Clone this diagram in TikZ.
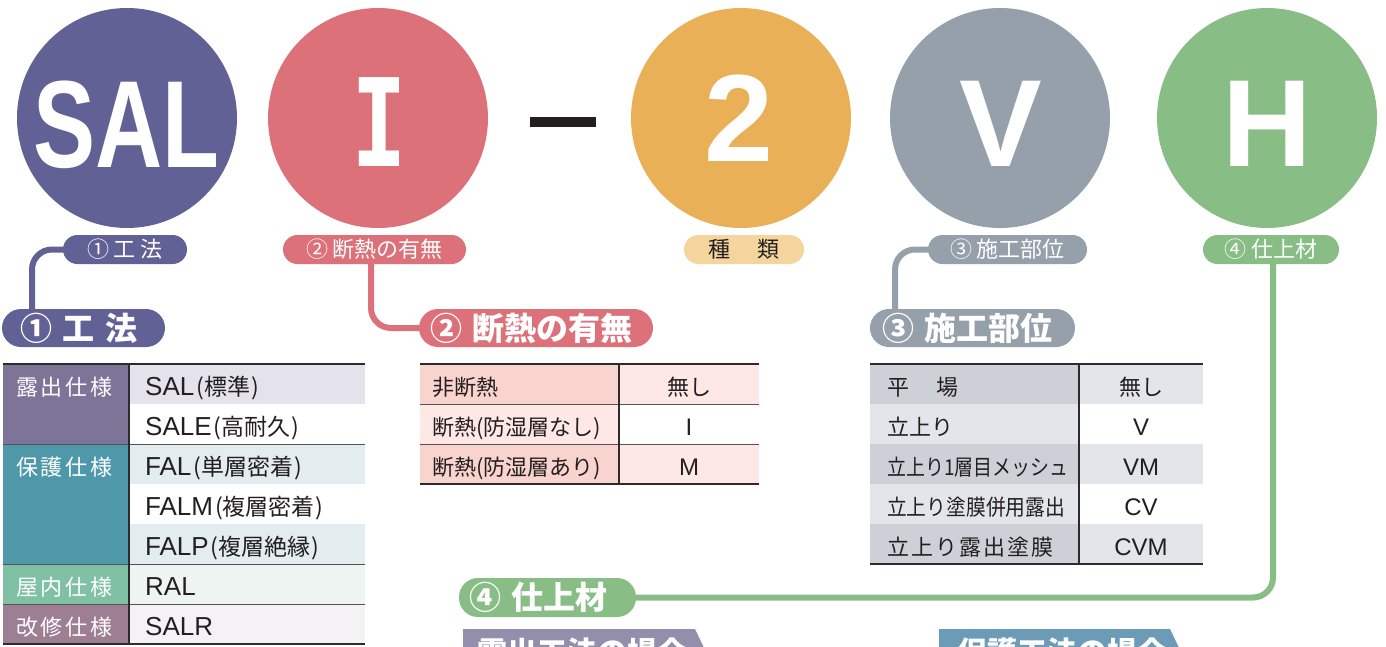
\documentclass[tikz,border=0pt]{standalone}
\usepackage{fontspec}
\usepackage{graphicx}
\setmainfont{Noto Sans CJK JP}
\newfontfamily\jpf{Noto Sans CJK JP}
\newfontfamily\latf{Liberation Sans}
\newfontfamily\monof{DejaVu Sans Mono}
\usetikzlibrary{backgrounds}
\definecolor{cA}{HTML}{626196}
\definecolor{cB}{HTML}{DC717A}
\definecolor{cC}{HTML}{E9B057}
\definecolor{cCl}{HTML}{F6D49E}
\definecolor{cD}{HTML}{95A0AB}
\definecolor{cE}{HTML}{88BD85}
\definecolor{ink}{HTML}{231F20}
\definecolor{rule}{HTML}{2E2B2C}
\definecolor{ruleb}{HTML}{555253}
\definecolor{lA}{HTML}{7D7498}
\definecolor{lB}{HTML}{4F98AA}
\definecolor{lC}{HTML}{80C0A4}
\definecolor{lD}{HTML}{9D7E93}
\definecolor{rA}{HTML}{E4E2EB}
\definecolor{rB}{HTML}{E3ECEF}
\definecolor{rC}{HTML}{EEF4F1}
\definecolor{rD}{HTML}{F4F2F5}
\definecolor{pkD}{HTML}{F9D4CF}
\definecolor{pkL}{HTML}{FDE8E6}
\definecolor{gyD}{HTML}{CDD1D7}
\definecolor{gyL}{HTML}{E2E5E9}
\definecolor{banA}{HTML}{948EAD}
\definecolor{banB}{HTML}{6B9BB7}
\newcommand\jpsz[1]{\jpf\fontsize{#1}{#1}\selectfont}
\newcommand\latsz[1]{\latf\fontsize{#1}{#1}\selectfont}
\newcommand\tbent[2]{{\latsz{26}#1}{\jpsz{23}\kern2pt(#2\kern1pt)}}
\begin{document}
\begin{tikzpicture}[x=1pt,y=-1pt,
  circ/.style={circle,minimum size=220pt,inner sep=0pt},
  letter/.style={text=white,inner sep=0pt,anchor=base,font=\latf\bfseries\fontsize{124}{124}\selectfont},
  spill/.style={rectangle,rounded corners=14.5pt,minimum height=29pt,inner sep=0pt,text=white,font=\jpsz{22}},
  bpill/.style={rectangle,rounded corners=19pt,minimum height=38pt,inner ysep=0pt,text=white,align=left,font=\jpf\bfseries\fontsize{32}{32}\selectfont},
  conn/.style={line width=6pt,rounded corners=20pt},
  rulethick/.style={line width=2pt,draw=rule},
  rulethin/.style={line width=1pt,draw=ruleb},
  tabtxt/.style={anchor=base west,inner sep=0pt,text=ink,font=\jpsz{22}},
  valtxt/.style={anchor=base,inner sep=0pt,text=ink,font=\latsz{24}},
  lbltxt/.style={anchor=base west,inner sep=0pt,text=white,font=\jpsz{22}},
  bantxt/.style={anchor=west,inner sep=0pt,text=white,font=\jpf\bfseries\fontsize{30}{30}\selectfont}
]
\useasboundingbox (0,0) rectangle (1386,646);
\clip (0,0) rectangle (1386,646);

% ---- circles ----
\node[circ,fill=cA] (c1) at (127,118) {};
\node[circ,fill=cB] (c2) at (378,118) {};
\node[circ,fill=cC] (c3) at (741,118) {};
\node[circ,fill=cD] (c4) at (1000,118) {};
\node[circ,fill=cE] (c5) at (1267,118) {};
\node[letter] (l1) at (126,167) {\scalebox{0.75}[1]{SAL}};
\node[letter,font=\monof\bfseries\fontsize{122}{122}\selectfont] (l2) at (379.5,166) {\scalebox{0.76}[1]{I}};
\node[letter] (l3) at (739,161) {2};
\node[letter] (l4) at (1001,166) {V};
\node[letter] (l5) at (1267,166) {H};
\node[fill=ink,minimum width=66pt,minimum height=10pt,inner sep=0pt] (dash) at (563,122) {};

% ---- small pills ----
\node[spill,fill=cA,minimum width=124pt] (sp1) at (125,249.5) {① 工 法};
\node[spill,fill=cB,minimum width=183pt] (sp2) at (374.5,249.5) {② 断熱の有無};
\node[spill,fill=cCl,minimum width=120pt,text=ink] (spk) at (744,249.5) {種\hspace{28pt}類};
\node[spill,fill=cD,minimum width=159pt] (sp3) at (1007.5,249.5) {③ 施工部位};
\node[spill,fill=cE,minimum width=136pt] (sp4) at (1271,249.5) {④ 仕上材};

% ---- big pills ----
\node[bpill,fill=cA,minimum width=163pt,text width=127pt,inner xsep=18pt] (bp1) at (83.5,328) {① 工 法};
\node[bpill,fill=cB,minimum width=234pt,text width=212pt,inner xsep=11pt] (bp2) at (536,328) {② 断熱の有無};
\node[bpill,fill=cD,minimum width=205pt,text width=181pt,inner xsep=12pt] (bp3) at (972.5,328) {③ 施工部位};
\node[bpill,fill=cE,minimum width=177pt,text width=157pt,inner xsep=10pt,minimum height=39pt] (bp4) at (547.5,597.5) {④ 仕上材};

% ---- connectors ----
\coordinate (k1) at (32,328);
\coordinate (k2) at (371,0);
\coordinate (k3) at (895,328);
\coordinate (k4) at (1273,0);
\begin{scope}[on background layer]
\draw[conn,draw=cA] (sp1.center) -| (k1);
\draw[conn,draw=cB] (sp2.center -| k2) |- (bp2.center);
\draw[conn,draw=cD] (sp3.center) -| (k3);
\draw[conn,draw=cE] (sp4.center -| k4) |- (bp4.center);
\end{scope}

% ---- table 1 ----
\fill[lA] (3,364) rectangle (129,444);
\fill[lB] (3,444) rectangle (129,564);
\fill[lC] (3,564) rectangle (129,604);
\fill[lD] (3,604) rectangle (129,644);
\fill[rA] (129,364) rectangle (365,404);
\fill[white] (129,404) rectangle (365,444);
\fill[rB] (129,444) rectangle (365,484);
\fill[white] (129,484) rectangle (365,524);
\fill[rB] (129,524) rectangle (365,564);
\fill[rC] (129,564) rectangle (365,604);
\fill[rD] (129,604) rectangle (365,644);
\draw[rulethin] (3,444) -- (365,444);
\draw[rulethin] (3,564) -- (365,564);
\draw[rulethin] (3,604) -- (365,604);
\draw[rulethick] (3,364) -- (365,364);
\draw[rulethick] (3,644) -- (365,644);
\draw[rulethick] (129,364) -- (129,644);
\node[lbltxt] (ta1) at (16,395) {\makebox[96pt][s]{露\hfill 出\hfill 仕\hfill 様}};
\node[lbltxt] (ta2) at (16,475) {\makebox[96pt][s]{保\hfill 護\hfill 仕\hfill 様}};
\node[lbltxt] (ta3) at (16,595) {\makebox[96pt][s]{屋\hfill 内\hfill 仕\hfill 様}};
\node[lbltxt] (ta4) at (16,635) {\makebox[96pt][s]{改\hfill 修\hfill 仕\hfill 様}};
\node[tabtxt] (tb1) at (145,395) {\tbent{SAL}{標準}};
\node[tabtxt] (tb2) at (145,435) {\tbent{SALE}{高耐久}};
\node[tabtxt] (tb3) at (145,475) {\tbent{FAL}{単層密着}};
\node[tabtxt] (tb4) at (145,515) {\tbent{FALM}{複層密着}};
\node[tabtxt] (tb5) at (145,555) {\tbent{FALP}{複層絶縁}};
\node[tabtxt,font=\latsz{26}] (tb6) at (145,595) {RAL};
\node[tabtxt,font=\latsz{26}] (tb7) at (145,635) {SALR};

% ---- table 2 ----
\fill[pkD] (420,364) rectangle (619,404);
\fill[pkL] (619,364) rectangle (759,404);
\fill[pkL] (420,404) rectangle (619,444);
\fill[white] (619,404) rectangle (759,444);
\fill[pkD] (420,444) rectangle (619,484);
\fill[pkL] (619,444) rectangle (759,484);
\draw[rulethin] (420,404) -- (759,404);
\draw[rulethin] (420,444) -- (759,444);
\draw[rulethick] (420,364) -- (759,364);
\draw[rulethick] (420,484) -- (759,484);
\draw[rulethick] (619,364) -- (619,484);
\node[tabtxt] (u1) at (432,395) {非断熱};
\node[tabtxt] (u2) at (432,435) {断熱(防湿層なし)};
\node[tabtxt] (u3) at (432,475) {断熱(防湿層あり)};
\node[valtxt,font=\jpsz{22}] (v1) at (689,395) {無し};
\node[valtxt] (v2) at (689,435) {I};
\node[valtxt] (v3) at (689,475) {M};

% ---- table 3 ----
\fill[gyD] (870,364) rectangle (1079,404);
\fill[gyL] (1079,364) rectangle (1203,404);
\fill[gyL] (870,404) rectangle (1079,444);
\fill[white] (1079,404) rectangle (1203,444);
\fill[gyD] (870,444) rectangle (1079,484);
\fill[gyL] (1079,444) rectangle (1203,484);
\fill[gyL] (870,484) rectangle (1079,524);
\fill[white] (1079,484) rectangle (1203,524);
\fill[gyD] (870,524) rectangle (1079,564);
\fill[gyL] (1079,524) rectangle (1203,564);
\draw[rulethick] (870,364) -- (1203,364);
\draw[rulethick] (870,564) -- (1203,564);
\draw[rulethick] (1079,364) -- (1079,564);
\node[tabtxt] (w1) at (887,395) {\makebox[71pt][s]{平\hfill 場}};
\node[tabtxt] (w2) at (887,435) {立上り};
\node[tabtxt] (w3) at (887,475) {\resizebox{181pt}{\height}{立上り1層目メッシュ}};
\node[tabtxt] (w4) at (887,515) {\resizebox{178pt}{\height}{立上り塗膜併用露出}};
\node[tabtxt] (w5) at (887,555) {\makebox[166pt][s]{立\hfill 上\hfill り\hfill 露\hfill 出\hfill 塗\hfill 膜}};
\node[valtxt,font=\jpsz{22}] (x1) at (1141,395) {無し};
\node[valtxt] (x2) at (1141,435) {V};
\node[valtxt] (x3) at (1141,475) {VM};
\node[valtxt] (x4) at (1141,515) {CV};
\node[valtxt] (x5) at (1141,555) {CVM};

% ---- bottom banners ----
\fill[banA] (463,629) -- (695,629) -- (706,652) -- (695,675) -- (463,675) -- cycle;
\fill[banB] (939,629) -- (1170,629) -- (1181,652) -- (1170,675) -- (939,675) -- cycle;
\node[bantxt] (bn1) at (477,652) {露出工法の場合};
\node[bantxt] (bn2) at (957,652) {保護工法の場合};
\end{tikzpicture}
\end{document}
